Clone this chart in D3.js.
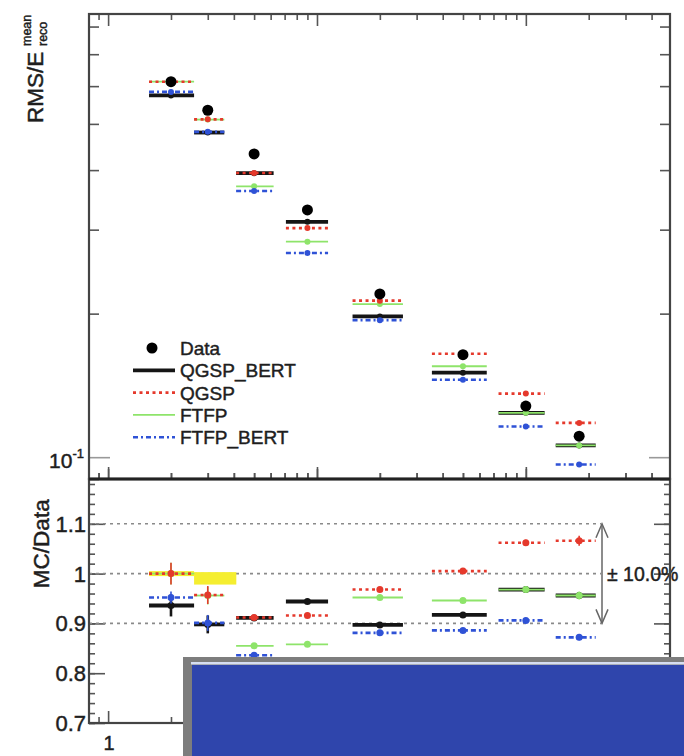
<!DOCTYPE html>
<html>
<head>
<meta charset="utf-8">
<script src="https://cdn.jsdelivr.net/npm/d3@7"></script>
<style>
  html, body { margin: 0; padding: 0; background: #fff; }
  svg { display: block; font-family: "Liberation Sans", Arial, Helvetica, sans-serif; }
  .lbl { fill: #1e1e1e; stroke: #1e1e1e; stroke-width: 0.45px; }
</style>
</head>
<body>
<svg id="chart" width="684" height="756"></svg>
<script>
// Beam energies (GeV) and bin extents used for the horizontal bars
const energies = [2, 3, 5, 9, 20, 50, 100, 180];
const binLow  = [1.57, 2.58, 4.1, 7.1, 14.8, 35.5, 74, 139];
const binHigh = [2.58, 3.6, 6.2, 11.3, 25.8, 65, 123, 216];

// Measured relative resolution RMS / E_reco^mean
const dataRms = [0.613, 0.534, 0.4325, 0.330, 0.220, 0.164, 0.128, 0.1107];

// MC / Data ratios per physics list
const ratioQGSP_BERT = [0.936, 0.898, 0.911, 0.944, 0.897, 0.917, 0.968, 0.956];
const ratioQGSP      = [1.000, 0.957, 0.912, 0.916, 0.968, 1.005, 1.062, 1.066];
const ratioFTFP      = [1.000, 0.956, 0.855, 0.858, 0.952, 0.946, 0.968, 0.956];
const ratioFTFP_BERT = [0.952, 0.901, 0.836, 0.812, 0.881, 0.886, 0.906, 0.872];

// Uncertainties on the ratios
const errQGSP_BERT = [0.022, 0.018, 0.004, 0.004, 0.004, 0.004, 0.004, 0.005];
const errQGSP      = [0.022, 0.018, 0.005, 0.005, 0.005, 0.005, 0.006, 0.010];
const errFTFP      = [0.022, 0.018, 0.005, 0.005, 0.005, 0.005, 0.005, 0.008];
const errFTFP_BERT = [0.012, 0.016, 0.005, 0.005, 0.005, 0.005, 0.005, 0.006];

// Data uncertainty band around unity (lowest energies)
const bandHigh = [1.005, 1.003];
const bandLow  = [0.995, 0.978];

// Axis tick values
const yTopTicksMajor = [0.1];
const yTopTicksMinor = [0.09, 0.2, 0.3, 0.4, 0.5, 0.6, 0.7, 0.8];
const yTopTickLabels = [{base: "10", exp: "-1", value: 0.1}];
const xTicksMajor = [1, 10, 100];
const xTickLabels = [1];
const xTicksMinor = [0.9, 2, 3, 4, 5, 6, 7, 8, 9, 20, 30, 40, 50, 60, 70, 80, 90, 200, 300, 400];
const ratioTicksMajor = [0.7, 0.8, 0.9, 1.0, 1.1];
const ratioRefLines = [0.9, 1.0, 1.1];
const legendLabels = ["Data", "QGSP_BERT", "QGSP", "FTFP", "FTFP_BERT"];
const bandLabel = "\u00b1 10.0%";

const models = [
  { name: "QGSP_BERT", ratio: ratioQGSP_BERT, err: errQGSP_BERT, color: "#151515", width: 3.8, dash: null },
  { name: "FTFP",      ratio: ratioFTFP,      err: errFTFP,      color: "#8ee46a", width: 1.8, dash: null },
  { name: "QGSP",      ratio: ratioQGSP,      err: errQGSP,      color: "#e5392c", width: 2.6, dash: "3,3.5" },
  { name: "FTFP_BERT", ratio: ratioFTFP_BERT, err: errFTFP_BERT, color: "#2f52d6", width: 2.6, dash: "5,3,2,3" }
];

const svg = d3.select("#chart");
const L = 89, R = 670, T = 14, M = 479, B = 723;

const x = d3.scaleLog().domain([0.81, 490]).range([L, R]);
const yTop = d3.scaleLog().domain([0.09, 0.85]).range([M, T]);
const yRat = d3.scaleLinear().domain([0.7, 1.19]).range([B, M]);

const axisColor = "#555";

function tickAxis(gen, values, size, tx, ty) {
  const g = svg.append("g").attr("transform", `translate(${tx},${ty})`)
    .call(gen.tickValues(values).tickSize(size).tickFormat(""));
  g.select(".domain").remove();
  g.selectAll(".tick line").attr("stroke", axisColor).attr("stroke-width", 1.6);
  return g;
}

// ---------- top panel ----------
tickAxis(d3.axisLeft(yTop), yTopTicksMinor, -10, L, 0);
tickAxis(d3.axisLeft(yTop), yTopTicksMajor, -21, L, 0).selectAll(".tick line").attr("stroke", "#999");
tickAxis(d3.axisRight(yTop), yTopTicksMinor, -10, R, 0);
tickAxis(d3.axisRight(yTop), yTopTicksMajor, -21, R, 0).selectAll(".tick line").attr("stroke", "#999");
tickAxis(d3.axisTop(x), xTicksMinor, -6, 0, T);
tickAxis(d3.axisTop(x), xTicksMajor, -12, 0, T);
tickAxis(d3.axisBottom(x), xTicksMinor, -6, 0, M);
tickAxis(d3.axisBottom(x), xTicksMajor, -12, 0, M);

// y tick label 10^-1
yTopTickLabels.forEach(t => {
  const tx = svg.append("text").attr("class", "lbl").attr("x", 84).attr("y", yTop(t.value) + 11)
    .attr("text-anchor", "end").attr("font-size", 21);
  tx.append("tspan").text(t.base);
  tx.append("tspan").attr("font-size", 13).attr("dy", -10).text(t.exp);
});

// y title RMS/E_reco^mean
const yTitle = svg.append("g").attr("transform", `translate(43,123) rotate(-90)`);
yTitle.append("text").attr("class", "lbl").attr("x", 0).attr("y", 0)
  .attr("font-size", 22.5).text("RMS/E");
yTitle.append("text").attr("class", "lbl").attr("x", 77).attr("y", -12)
  .attr("font-size", 12.5).text("mean");
yTitle.append("text").attr("class", "lbl").attr("x", 77).attr("y", 4)
  .attr("font-size", 12.5).text("reco");

// MC bars in the top panel
models.forEach(m => {
  const g = svg.append("g");
  energies.forEach((e, i) => {
    const v = dataRms[i] * m.ratio[i];
    g.append("line")
      .attr("x1", x(binLow[i])).attr("x2", x(binHigh[i]))
      .attr("y1", yTop(v)).attr("y2", yTop(v))
      .attr("stroke", m.color).attr("stroke-width", m.width)
      .attr("stroke-dasharray", m.dash);
    g.append("circle").attr("cx", x(e)).attr("cy", yTop(v)).attr("r", 3)
      .attr("fill", m.color);
  });
});

// data points
svg.append("g").selectAll("circle").data(energies).join("circle")
  .attr("cx", d => x(d)).attr("cy", (d, i) => yTop(dataRms[i])).attr("r", 5.5)
  .attr("fill", "#000");

// legend
const legX1 = 133, legX2 = 175, legText = 180, legY0 = 348, legDy = 22.3;
const legend = svg.append("g");
legend.append("circle").attr("cx", 152).attr("cy", legY0).attr("r", 5.5).attr("fill", "#000");
const legendOrder = ["QGSP_BERT", "QGSP", "FTFP", "FTFP_BERT"];
legendOrder.forEach((name, k) => {
  const m = models.find(d => d.name === name);
  const yy = legY0 + legDy * (k + 1);
  legend.append("line").attr("x1", legX1).attr("x2", legX2).attr("y1", yy).attr("y2", yy)
    .attr("stroke", m.color).attr("stroke-width", m.width).attr("stroke-dasharray", m.dash);
});
legendLabels.forEach((lab, k) => {
  legend.append("text").attr("class", "lbl").attr("x", legText).attr("y", legY0 + legDy * k + 7)
    .attr("font-size", 19).text(lab);
});

// ---------- ratio panel ----------
const ratioMinor = d3.range(0.70, 1.19, 0.02).map(v => +v.toFixed(2));
tickAxis(d3.axisLeft(yRat), ratioMinor, -6, L, 0);
tickAxis(d3.axisLeft(yRat), ratioTicksMajor, -16, L, 0);
tickAxis(d3.axisRight(yRat), ratioMinor, -6, R, 0);
tickAxis(d3.axisRight(yRat), ratioTicksMajor, -16, R, 0);
tickAxis(d3.axisTop(x), xTicksMinor, 6, 0, M);
tickAxis(d3.axisTop(x), xTicksMajor, 10, 0, M);
tickAxis(d3.axisBottom(x), xTicksMinor, -6, 0, B);
tickAxis(d3.axisBottom(x), xTicksMajor, -12, 0, B);

// ratio tick labels
svg.append("g").selectAll("text").data(ratioTicksMajor).join("text")
  .attr("class", "lbl").attr("x", 86).attr("y", d => yRat(d) + 8).attr("text-anchor", "end")
  .attr("font-size", 22).text(d => d3.format("~g")(d));

// x tick labels (the rest of the axis sits under the overlaid panel)
svg.append("g").selectAll("text").data(xTickLabels).join("text")
  .attr("class", "lbl").attr("x", d => x(d) + 1).attr("y", 750).attr("text-anchor", "middle")
  .attr("font-size", 20).text(d => d3.format("~g")(d));

// y title
svg.append("text").attr("class", "lbl").attr("transform", `translate(49,${yRat(1.06)}) rotate(-90)`)
  .attr("text-anchor", "middle").attr("font-size", 22.5)
  .text("MC/Data");

// reference lines
svg.append("g").selectAll("line").data(ratioRefLines).join("line")
  .attr("x1", L).attr("x2", 601).attr("y1", d => yRat(d)).attr("y2", d => yRat(d))
  .attr("stroke", "#8a8a8a").attr("stroke-width", 1.6).attr("stroke-dasharray", "3,4");

// data uncertainty band
svg.append("g").selectAll("rect").data(bandHigh).join("rect")
  .attr("x", (d, i) => x(binLow[i])).attr("width", (d, i) => x(binHigh[i]) - x(binLow[i]) + 12 * i)
  .attr("y", d => yRat(d)).attr("height", (d, i) => yRat(bandLow[i]) - yRat(d))
  .attr("fill", "#f5ee30");

// MC ratios
models.forEach(m => {
  const g = svg.append("g");
  energies.forEach((e, i) => {
    const v = m.ratio[i];
    g.append("line")
      .attr("x1", x(binLow[i])).attr("x2", x(binHigh[i]))
      .attr("y1", yRat(v)).attr("y2", yRat(v))
      .attr("stroke", m.color).attr("stroke-width", m.width)
      .attr("stroke-dasharray", m.dash);
    g.append("line")
      .attr("x1", x(e)).attr("x2", x(e))
      .attr("y1", yRat(v + m.err[i])).attr("y2", yRat(v - m.err[i]))
      .attr("stroke", m.color).attr("stroke-width", m.name === "QGSP_BERT" ? 2.6 : 1.6);
    g.append("circle").attr("cx", x(e)).attr("cy", yRat(v)).attr("r", 3.5)
      .attr("fill", m.color);
  });
});

// +-10% double arrow
const arrX = 602;
const arrowColor = "#666";
svg.append("line").attr("x1", arrX).attr("x2", arrX)
  .attr("y1", yRat(1.1)).attr("y2", yRat(0.9))
  .attr("stroke", arrowColor).attr("stroke-width", 1.5);
[[1.1, 1], [0.9, -1]].forEach(([v, s]) => {
  const yy = yRat(v);
  svg.append("path")
    .attr("d", `M${arrX - 6},${yy + s * 14} L${arrX},${yy} L${arrX + 6},${yy + s * 14}`)
    .attr("fill", "none").attr("stroke", arrowColor).attr("stroke-width", 1.5);
});
svg.append("text").attr("class", "lbl").attr("x", 607).attr("y", yRat(1.0) + 7)
  .attr("font-size", 19.5).text(bandLabel);

// frames
[[T, M], [M, B]].forEach(([t, b]) => {
  svg.append("rect").attr("x", L).attr("y", t).attr("width", R - L).attr("height", b - t)
    .attr("fill", "none").attr("stroke", "#444").attr("stroke-width", 2.2);
});
svg.append("line").attr("x1", L).attr("x2", R).attr("y1", M).attr("y2", M)
  .attr("stroke", "#222").attr("stroke-width", 2.8);

// overlaid panel in the lower right corner
const ov = svg.append("g");
ov.append("rect").attr("x", 183).attr("y", 657).attr("width", 501).attr("height", 99).attr("fill", "#7d7d7d");
ov.append("rect").attr("x", 191).attr("y", 662).attr("width", 493).attr("height", 2.5).attr("fill", "#d6def2");
ov.append("rect").attr("x", 192).attr("y", 665).attr("width", 492).attr("height", 91).attr("fill", "#2f45ac");
</script>
</body>
</html>
